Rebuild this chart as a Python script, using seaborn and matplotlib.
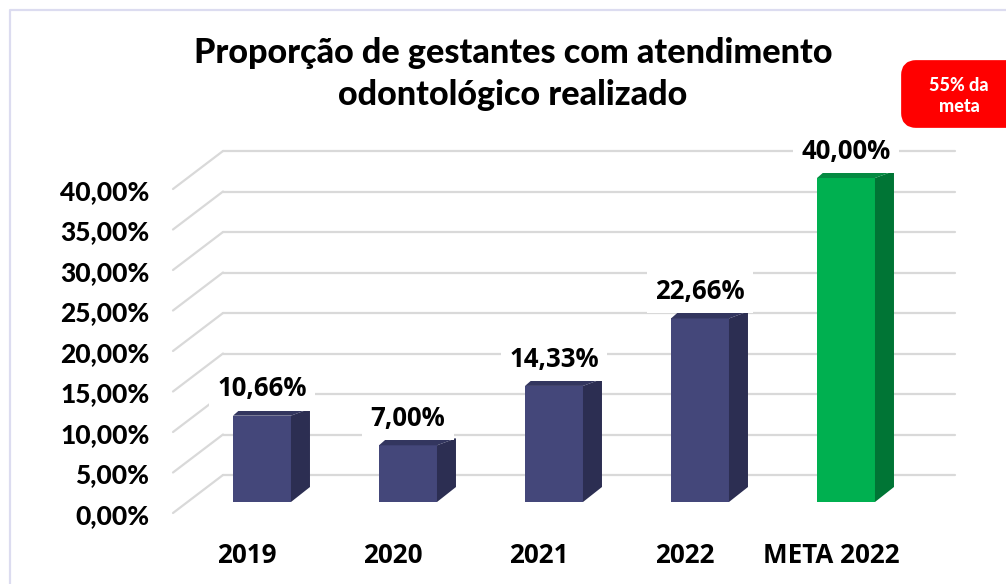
import matplotlib
matplotlib.use("Agg")
import matplotlib.pyplot as plt
import pandas as pd
import seaborn as sns
from matplotlib.lines import Line2D
from matplotlib.patches import FancyBboxPatch, Polygon
from matplotlib.transforms import Affine2D

# Data
categories = ["2019", "2020", "2021", "2022", "META 2022"]
values = [10.66, 7.00, 14.33, 22.66, 40.00]
value_labels = ["10,66%", "7,00%", "14,33%", "22,66%", "40,00%"]
axis_ticks = [0, 5, 10, 15, 20, 25, 30, 35, 40]
axis_labels = ["0,00%", "5,00%", "10,00%", "15,00%", "20,00%", "25,00%", "30,00%", "35,00%", "40,00%"]
title = "Proporção de gestantes com atendimento\nodontológico realizado"
badge_text = "55% da\nmeta"

front_colors = ["#44477a", "#44477a", "#44477a", "#44477a", "#00b050"]
side_colors = ["#2c2e52", "#2c2e52", "#2c2e52", "#2c2e52", "#007535"]
top_colors = ["#33365f", "#33365f", "#33365f", "#33365f", "#058a42"]

W, H = 1006, 584
sns.set_theme(style="white")
plt.rcParams["font.family"] = ["Open Sans", "DejaVu Sans"]

fig = plt.figure(figsize=(W / 100, H / 100), dpi=100, facecolor="white")
px = Affine2D().scale(1, -1).translate(0, H)  # picture pixels, y going down


def box(left, top, right, bottom):
    return [left / W, 1 - bottom / H, (right - left) / W, (bottom - top) / H]


# Back wall with the gridlines
ax_wall = fig.add_axes(box(223, 151, 955, 475), zorder=0)
ax_wall.set_xlim(0, 1)
ax_wall.set_ylim(0, 40)
ax_wall.set_xticks([])
ax_wall.set_yticks(axis_ticks)
ax_wall.set_yticklabels([])
ax_wall.tick_params(left=False)
ax_wall.grid(axis="y", color="#d9d9d9", lw=1.6, clip_on=False)
sns.despine(ax=ax_wall, left=True, bottom=True)
ax_wall.patch.set_alpha(0)

# Front edge, only there for the value axis labels
ax_front = fig.add_axes(box(173, 190, 174, 514), zorder=1)
ax_front.set_xticks([])
ax_front.set_ylim(0, 40)
ax_front.set_yticks(axis_ticks)
ax_front.set_yticklabels(axis_labels, fontsize=19, fontweight=900, family="Lato", color="black")
ax_front.tick_params(left=False, pad=11)
ax_front.patch.set_alpha(0)
sns.despine(ax=ax_front, left=True, bottom=True)

# Diagonal floor lines from the front edge to the wall
for v in axis_ticks:
    y_front = 513 - (513 - 189) * v / 40
    y_back = 475 - (475 - 151) * v / 40
    fig.add_artist(Line2D([173, 223], [y_front, y_back], color="#d9d9d9", lw=1.6, transform=px))

# Bars
ax = fig.add_axes(box(189, 178, 919, 502), zorder=2)
ax.patch.set_alpha(0)
df = pd.DataFrame({"ano": categories, "valor": values})
sns.barplot(data=df, x="ano", y="valor", hue="ano", palette=front_colors, width=0.397,
            saturation=1, legend=False, linewidth=0, ax=ax)
ax.set_xlim(-0.5, 4.5)
ax.set_ylim(0, 40)
ax.set_xlabel("")
ax.set_ylabel("")
ax.set_yticks([])
# category labels sit a little left of their bars in the original
ax.set_xticks([i - 15 / 146 for i in range(len(categories))], categories)
ax.tick_params(axis="x", bottom=False, pad=23, labelsize=18.7)
for lab in ax.get_xticklabels():
    lab.set_fontweight("bold")
    lab.set_color("black")
sns.despine(ax=ax, left=True, bottom=True)

# Fake 3D faces taken from the drawn bars
fig.canvas.draw()
to_pixels = ax.transData + px.inverted()
bars = [p for p in ax.patches if p.get_height() > 0]
for i, bar in enumerate(bars):
    x0, y1 = to_pixels.transform((bar.get_x(), bar.get_height()))
    x1, y0 = to_pixels.transform((bar.get_x() + bar.get_width(), 0))
    ax.add_patch(Polygon([(x1, y1), (x1 + 19, y1 - 7), (x1 + 19, y0 - 15), (x1, y0)],
                         fc=side_colors[i], ec="none", transform=px, zorder=2, clip_on=False))
    ax.add_patch(Polygon([(x0, y1), (x0 + 8, y1 - 7), (x1 + 19, y1 - 7), (x1, y1)],
                         fc=top_colors[i], ec="none", transform=px, zorder=2, clip_on=False))

# Value labels on white boxes
for container, label in zip(ax.containers, value_labels):
    ax.bar_label(container, labels=[label] * len(container), padding=9.5, fontsize=18.5, fontweight="bold",
                 color="black", bbox=dict(fc="white", ec="none", pad=6), zorder=5)

fig.text(513 / W, 1 - 74 / H, title, ha="center", va="center", fontsize=24.6, fontweight=900,
         family="Lato", color="black", linespacing=1.37)

# Red badge at the right edge
fig.add_artist(FancyBboxPatch((906, 65), 110, 58, boxstyle="round,pad=0,rounding_size=10",
                              fc="#ff0000", ec="#ff0000", lw=7, transform=px, joinstyle="round"))
fig.text(959 / W, 1 - 96 / H, badge_text, ha="center", va="center", fontsize=13, fontweight=900,
         family="Lato", color="white", linespacing=1.3)

# Thin lavender frame
fig.add_artist(Line2D([10, 10, W], [H, 10, 10], color="#dcdcf0", lw=1.6, transform=px))

fig.savefig("out.png", dpi=100)
